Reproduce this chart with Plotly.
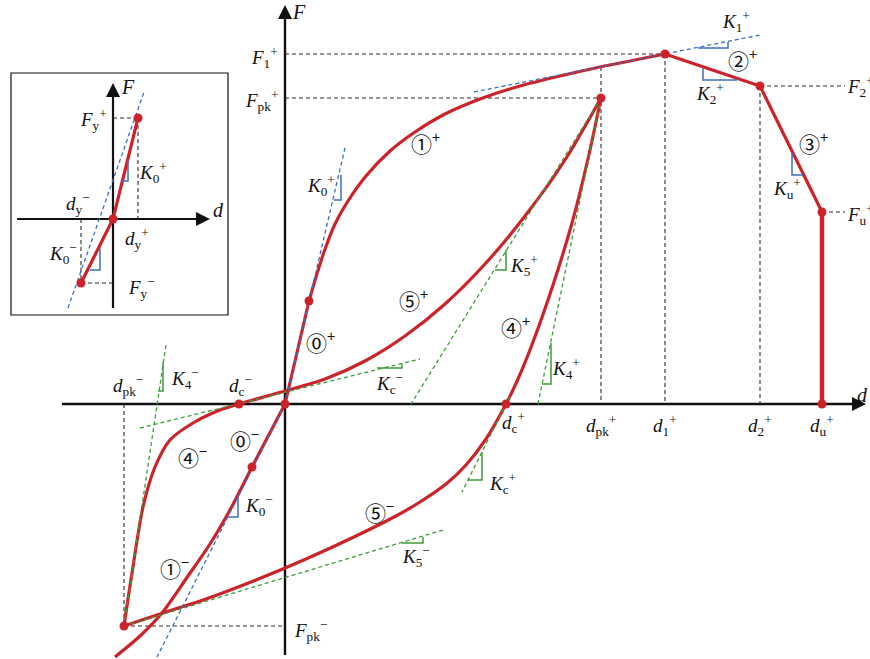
import plotly.graph_objects as go

RED = "#cc2229"
BLUE = "#3f6fbf"
GREEN = "#3e9c3a"
GUIDE = "#2a2a2a"
INK = "#111111"
FONT = "Liberation Serif, DejaVu Serif, serif"
CIRCLE_FONT = "Noto Sans CJK JP, Noto Sans CJK SC, DejaVu Sans, sans-serif"

# ---- main diagram (d, F in drawing units) ----
# envelope, positive side
zero_pos_d = [0, 24]
zero_pos_F = [0, 103]
one_pos_d = [24, 31, 39, 50, 63, 81, 105, 130, 160, 195, 235, 275, 315, 380]
one_pos_F = [103, 127, 152, 180, 203, 228, 253, 272, 290, 305, 318, 328, 337, 350]
softening_d = [380, 475, 537]
softening_F = [350, 318, 192]
residual_d = [537, 537]
residual_F = [192, 0]

# envelope, negative side
zero_neg_d = [0, -33]
zero_neg_F = [0, -63]
one_neg_d = [-33, -55, -75, -97, -123, -145, -170]
one_neg_F = [-63, -106, -140, -172, -209, -232, -253]

# unloading / reloading branches (4- then 5+, 4+ then 5-)
upper_branch_d = [-161, -153, -142, -130, -115, -92, -65, -46, 0, 40, 80, 120, 160, 200, 240, 280, 316]
upper_branch_F = [-222, -169, -103, -63, -36, -19, -6, 0, 13, 25, 43, 68, 100, 140, 188, 244, 306]
lower_branch_d = [316, 303, 287, 268, 248, 233, 221, 201, 181, 161, 135, 111, 71, 21, -29, -79, -119, -161]
lower_branch_F = [306, 245, 181, 119, 62, 25, 0, -35, -61, -80, -98, -112, -132, -155, -176, -195, -208, -222]

# key points
key_d = [0, 24, 316, 380, 475, 537, 537, 221, -46, -33, -161]
key_F = [0, 103, 306, 350, 318, 192, 0, 0, 0, -63, -222]

# stiffness tangents
blue_tangents = {
    "K0+": ([0, 60], [0, 256]),
    "K0-": ([0, -128], [0, -253]),
    "K1+": ([189, 475], [312, 369]),
}
green_tangents = {
    "K4-": ([-161, -119], [-222, 59]),
    "Kc-": ([-145, 135], [-24, 45]),
    "K5+": ([316, 126], [306, 0]),
    "K4+": ([253, 316], [0, 306]),
    "Kc+": ([225, 177], [8, -88]),
    "K5-": ([-161, 158], [-222, -126]),
}
blue_triangles = [
    ([49, 56, 56], [204, 204, 229]),
    ([413, 443, 443], [356, 356, 362]),
    ([418, 418, 452], [336, 324, 324]),
    ([507, 507, 518], [251, 229, 229]),
    ([-47, -47, -58], [-91, -113, -113]),
]
green_triangles = [
    ([-122, -122, -127], [42, 13, 13]),
    ([92, 117, 117], [36, 36, 40]),
    ([221, 221, 210], [154, 134, 134]),
    ([266, 266, 257], [61, 20, 20]),
    ([197, 197, 183], [-48, -76, -76]),
    ([117, 138, 138], [-139, -139, -133]),
]
guides = [
    ([0, 380], [350, 350]),
    ([0, 316], [306, 306]),
    ([316, 316], [337, 0]),
    ([380, 380], [350, 0]),
    ([475, 475], [318, 0]),
    ([475, 560], [318, 318]),
    ([537, 560], [192, 192]),
    ([-161, 0], [-222, -222]),
    ([-161, -161], [0, -222]),
]

# ---- inset (yield definition) ----
inset_curve_d = [-32, 0, 25]
inset_curve_F = [-64, 0, 101]
inset_tangent_d = [-45, 31]
inset_tangent_F = [-89, 127]
inset_guides = [
    ([25, 25], [101, 0]),
    ([0, 25], [101, 101]),
    ([-32, -32], [0, -64]),
    ([-32, 0], [-64, -64]),
]
inset_triangles = [
    ([9, 15, 15], [38, 38, 59]),
    ([-13, -13, -23], [-29, -51, -51]),
]

fig = go.Figure()


def add_line(d, F, color, width, dash="solid", shape="linear", ref=""):
    fig.add_trace(go.Scatter(
        x=d, y=F, mode="lines", xaxis="x" + ref, yaxis="y" + ref,
        line=dict(color=color, width=width, dash=dash, shape=shape, smoothing=0.8),
        hoverinfo="skip",
    ))


def add_label(d, F, text, size=19, ref="", xanchor="center", family=FONT):
    fig.add_annotation(
        x=d, y=F, xref="x" + ref, yref="y" + ref, text=text, showarrow=False,
        font=dict(family=family, size=size, color=INK), xanchor=xanchor, yanchor="middle",
    )


def add_circled(d, F, digit, sign):
    add_label(d, F, digit + "<sup>" + sign + "</sup>", size=21, family=CIRCLE_FONT)


def add_arrowhead(x, y, ax, ay, ref=""):
    fig.add_annotation(
        x=x, y=y, ax=ax, ay=ay, xref="x" + ref, yref="y" + ref,
        axref="x" + ref, ayref="y" + ref, text="", showarrow=True,
        arrowhead=2, arrowsize=1.4, arrowwidth=2, arrowcolor=INK,
    )


# axes
add_line([-223, 575], [0, 0], INK, 2.4)
add_line([0, 0], [-251, 392], INK, 2.4)
add_arrowhead(581, 0, 565, 0)
add_arrowhead(0, 399, 0, 383)

for d, F in guides:
    add_line(d, F, GUIDE, 1.1, dash="4px,3px")

# red curves
add_line(zero_pos_d, zero_pos_F, RED, 3.2)
add_line(one_pos_d, one_pos_F, RED, 3.2, shape="spline")
add_line(softening_d, softening_F, RED, 3.2)
add_line(residual_d, residual_F, RED, 4.5)
add_line(zero_neg_d, zero_neg_F, RED, 3.2)
add_line(one_neg_d, one_neg_F, RED, 3.2, shape="spline")
add_line(upper_branch_d, upper_branch_F, RED, 3.2, shape="spline")
add_line(lower_branch_d, lower_branch_F, RED, 3.2, shape="spline")

for d, F in blue_tangents.values():
    add_line(d, F, BLUE, 1.3, dash="4px,3px")
for d, F in green_tangents.values():
    add_line(d, F, GREEN, 1.3, dash="4px,3px")
for d, F in blue_triangles:
    add_line(d, F, BLUE, 1.5)
for d, F in green_triangles:
    add_line(d, F, GREEN, 1.5)

fig.add_trace(go.Scatter(
    x=key_d, y=key_F, mode="markers", marker=dict(color=RED, size=9),
    hoverinfo="skip",
))

# main labels
add_label(5, 392, "<i>F</i>", size=20, xanchor="left")
add_label(570, 9, "<i>d</i>", size=20, xanchor="left")
add_label(-5, 347, "<i>F</i><sub>1</sub><sup>+</sup>", xanchor="right")
add_label(-5, 304, "<i>F</i><sub>pk</sub><sup>+</sup>", xanchor="right")
add_label(-45, 19, "<i>d</i><sub>c</sub><sup>−</sup>")
add_label(-157, 19, "<i>d</i><sub>pk</sub><sup>−</sup>")
add_label(-100, 26, "<i>K</i><sub>4</sub><sup>−</sup>")
add_label(228, -18, "<i>d</i><sub>c</sub><sup>+</sup>")
add_label(316, -21, "<i>d</i><sub>pk</sub><sup>+</sup>")
add_label(380, -21, "<i>d</i><sub>1</sub><sup>+</sup>")
add_label(475, -21, "<i>d</i><sub>2</sub><sup>+</sup>")
add_label(537, -21, "<i>d</i><sub>u</sub><sup>+</sup>")
add_label(560, 318, "<i>F</i><sub>2</sub><sup>+</sup>", xanchor="left")
add_label(560, 190, "<i>F</i><sub>u</sub><sup>+</sup>", xanchor="left")
add_label(451, 383, "<i>K</i><sub>1</sub><sup>+</sup>")
add_label(425, 311, "<i>K</i><sub>2</sub><sup>+</sup>")
add_label(502, 216, "<i>K</i><sub>u</sub><sup>+</sup>")
add_label(36, 219, "<i>K</i><sub>0</sub><sup>+</sup>")
add_label(239, 139, "<i>K</i><sub>5</sub><sup>+</sup>")
add_label(281, 36, "<i>K</i><sub>4</sub><sup>+</sup>")
add_label(104, 21, "<i>K</i><sub>c</sub><sup>−</sup>")
add_label(-26, -101, "<i>K</i><sub>0</sub><sup>−</sup>")
add_label(131, -152, "<i>K</i><sub>5</sub><sup>−</sup>")
add_label(217, -79, "<i>K</i><sub>c</sub><sup>+</sup>")
add_label(7, -226, "<i>F</i><sub>pk</sub><sup>−</sup>", xanchor="left")
add_circled(457, 345, "②", "+")
add_circled(528, 262, "③", "+")
add_circled(140, 262, "①", "+")
add_circled(35, 63, "⓪", "+")
add_circled(128, 105, "⑤", "+")
add_circled(230, 78, "④", "+")
add_circled(-41, -35, "⓪", "−")
add_circled(-93, -52, "④", "−")
add_circled(-111, -163, "①", "−")
add_circled(94, -107, "⑤", "−")

# inset
add_line([-96, 92], [0, 0], INK, 2.2, ref="2")
add_line([0, 0], [-89, 130], INK, 2.2, ref="2")
add_arrowhead(97, 0, 83, 0, ref="2")
add_arrowhead(0, 136, 0, 122, ref="2")
for d, F in inset_guides:
    add_line(d, F, GUIDE, 1.1, dash="4px,3px", ref="2")
add_line(inset_curve_d, inset_curve_F, RED, 3.2, ref="2")
add_line(inset_tangent_d, inset_tangent_F, BLUE, 1.3, dash="4px,3px", ref="2")
for d, F in inset_triangles:
    add_line(d, F, BLUE, 1.5, ref="2")
fig.add_trace(go.Scatter(
    x=inset_curve_d, y=inset_curve_F, mode="markers", xaxis="x2", yaxis="y2",
    marker=dict(color=RED, size=9), hoverinfo="skip",
))
add_label(6, 132, "<i>F</i>", size=20, ref="2", xanchor="left")
add_label(98, 9, "<i>d</i>", size=20, ref="2", xanchor="left")
add_label(-20, 99, "<i>F</i><sub>y</sub><sup>+</sup>", ref="2")
add_label(-35, 16, "<i>d</i><sub>y</sub><sup>−</sup>", ref="2")
add_label(24, -19, "<i>d</i><sub>y</sub><sup>+</sup>", ref="2")
add_label(40, 47, "<i>K</i><sub>0</sub><sup>+</sup>", ref="2")
add_label(-50, -34, "<i>K</i><sub>0</sub><sup>−</sup>", ref="2")
add_label(28, -68, "<i>F</i><sub>y</sub><sup>−</sup>", ref="2")

fig.add_shape(
    type="rect", xref="paper", yref="paper",
    x0=11 / 870, x1=228 / 870, y0=1 - 315 / 659, y1=1 - 73 / 659,
    line=dict(color=INK, width=1.2),
)

fig.update_layout(
    width=870,
    height=659,
    margin=dict(l=0, r=0, t=0, b=0, pad=0),
    paper_bgcolor="white",
    plot_bgcolor="white",
    showlegend=False,
    xaxis=dict(range=[-285, 585], visible=False, domain=[0, 1]),
    yaxis=dict(range=[-255, 404], visible=False, domain=[0, 1]),
    xaxis2=dict(range=[-102, 115], visible=False, anchor="y2",
                domain=[11 / 870, 228 / 870]),
    yaxis2=dict(range=[-96, 146], visible=False, anchor="x2",
                domain=[1 - 315 / 659, 1 - 73 / 659]),
)

fig.write_html(
    "out.html",
    config={"displayModeBar": False},
    post_script="document.body.style.margin='0';",
)
